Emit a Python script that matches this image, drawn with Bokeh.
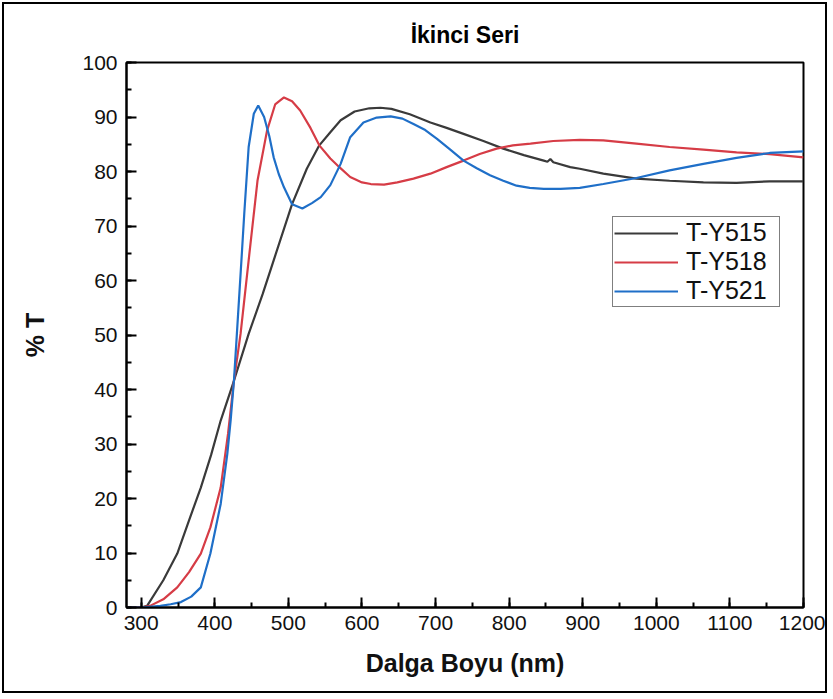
from bokeh.plotting import figure
from bokeh.models import Legend, LegendItem, SingleIntervalTicker, Range1d
from bokeh.embed import file_html
from bokeh.resources import INLINE

# ---- data ----
title_text = "İkinci Seri"
x_label = "Dalga Boyu (nm)"
y_label = "% T"
series_names = ["T-Y515", "T-Y518", "T-Y521"]

wl_515 = [280, 300, 308, 330, 349, 365, 381, 395, 408, 426, 446, 465, 480, 505, 525, 542,
          557, 571, 590, 610, 625, 640, 665, 693, 715, 738, 765, 792, 820, 847, 852, 856,
          860, 883, 896, 928, 973, 1018, 1064, 1109, 1154, 1200]
t_515 = [0, 0, 0.3, 5, 9.9, 16, 22, 28, 34.3, 41.6, 50.2, 57.5, 63.7, 74, 80.5, 84.8,
         87.2, 89.4, 91, 91.6, 91.7, 91.5, 90.5, 89, 88, 86.9, 85.6, 84.2, 83, 82, 81.8, 82.3,
         81.7, 80.8, 80.5, 79.6, 78.7, 78.3, 78, 77.9, 78.2, 78.2]

wl_518 = [280, 300, 312, 330, 349, 365, 381, 394, 408, 418, 426, 435, 446, 458, 471, 482,
          494, 505, 516, 530, 542, 557, 570, 584, 600, 612, 630, 648, 670, 693, 715, 738,
          760, 783, 805, 829, 860, 896, 928, 973, 1018, 1064, 1109, 1154, 1200]
t_518 = [0, 0, 0.3, 1.5, 3.7, 6.5, 9.9, 14.7, 22, 31.9, 41.6, 50.2, 63.7, 78.3, 87.5, 92.3,
         93.6, 92.9, 91.2, 88, 84.8, 82.4, 80.7, 79, 78, 77.7, 77.6, 78, 78.7, 79.6, 80.8, 82,
         83.2, 84.2, 84.8, 85.1, 85.6, 85.8, 85.7, 85.1, 84.5, 84, 83.5, 83.2, 82.6]

wl_521 = [280, 300, 326, 340, 354, 368, 381, 394, 408, 417, 421.5, 426, 430, 437, 440, 446,
          453, 459, 467, 474, 480, 487, 494, 505, 519, 532, 544, 557, 571, 584, 602, 620,
          639, 655, 670, 686, 702, 720, 738, 756, 774, 792, 810, 828, 847, 870, 896, 928,
          973, 1018, 1064, 1109, 1154, 1200]
t_521 = [0, 0, 0.3, 0.6, 1, 2, 3.7, 9.9, 19, 28.2, 34.3, 41.6, 50.2, 65.5, 72.2, 84.5,
         90.6, 92.1, 90, 86.5, 82.6, 79.5, 77.1, 74, 73.2, 74.2, 75.3, 77.5, 81.4, 86.3, 89, 89.9,
         90.1, 89.7, 88.7, 87.6, 86, 84, 82, 80.6, 79.3, 78.3, 77.4, 77, 76.8, 76.8, 77, 77.7,
         78.8, 80.2, 81.4, 82.5, 83.4, 83.7]

colors = ["#3a3a3a", "#d63c46", "#1f6fc8"]

FONT = "Liberation Sans"

p = figure(width=825, height=691,
           x_range=Range1d(280, 1200), y_range=Range1d(0, 100),
           output_backend="svg", toolbar_location=None,
           min_border_left=122, min_border_right=26,
           min_border_top=58, min_border_bottom=88)
p.margin = (2, 2, 2, 2)
p.styles = {"border": "2px solid #000"}
p.background_fill_color = "white"
p.border_fill_color = "white"
p.outline_line_color = "black"
p.outline_line_width = 2
p.xgrid.visible = False
p.ygrid.visible = False

p.title.text = title_text
p.title.align = "center"
p.title.text_font = FONT
p.title.text_font_size = "23px"
p.title.text_font_style = "bold"
p.title.text_color = "black"
p.title.standoff = 30

p.xaxis.ticker = SingleIntervalTicker(interval=100, num_minor_ticks=2)
p.yaxis.ticker = SingleIntervalTicker(interval=10, num_minor_ticks=2)
for ax in (p.xaxis[0], p.yaxis[0]):
    ax.axis_line_width = 2
    ax.axis_line_color = "black"
    ax.major_tick_in = 10
    ax.major_tick_out = 0
    ax.minor_tick_in = 5
    ax.minor_tick_out = 0
    ax.major_tick_line_width = 2
    ax.minor_tick_line_width = 2
    ax.major_tick_line_color = "black"
    ax.minor_tick_line_color = "black"
    ax.major_label_text_font = FONT
    ax.major_label_text_font_size = "21px"
    ax.major_label_text_color = "#111111"
    ax.axis_label_text_font = FONT
    ax.axis_label_text_font_size = "25px"
    ax.axis_label_text_font_style = "bold"
    ax.axis_label_text_color = "#111111"
p.xaxis.axis_label = x_label
p.yaxis.axis_label = y_label
p.xaxis.major_label_standoff = 8
p.yaxis.major_label_standoff = 9
p.xaxis.axis_label_standoff = 16
p.yaxis.axis_label_standoff = 30

r1 = p.line(wl_515, t_515, line_color=colors[0], line_width=2.2)
r2 = p.line(wl_518, t_518, line_color=colors[1], line_width=2.2)
r3 = p.line(wl_521, t_521, line_color=colors[2], line_width=2.2)

legend = Legend(items=[LegendItem(label=series_names[0], renderers=[r1]),
                       LegendItem(label=series_names[1], renderers=[r2]),
                       LegendItem(label=series_names[2], renderers=[r3])],
                location=(486, 300))
legend.label_text_font = FONT
legend.label_text_font_size = "25px"
legend.label_text_color = "#111111"
legend.glyph_width = 64
legend.glyph_height = 20
legend.label_standoff = 8
legend.label_width = 92
legend.padding = 1
legend.spacing = -5
legend.margin = 0
legend.border_line_color = "black"
legend.border_line_width = 1
legend.background_fill_alpha = 1
p.add_layout(legend)

open("out.html", "w").write(file_html(p, INLINE))
